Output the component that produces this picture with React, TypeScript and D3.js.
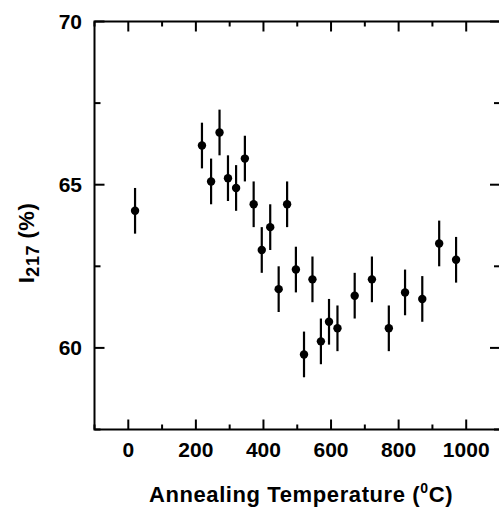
import React from "react";
import * as d3 from "d3";

const temperatures = [20, 218, 245, 270, 295, 319, 345, 371, 395, 420, 445, 470, 496, 520, 545, 570, 594, 619, 670, 721, 771, 819, 870, 920, 970];
const intensities = [64.2, 66.2, 65.1, 66.6, 65.2, 64.9, 65.8, 64.4, 63.0, 63.7, 61.8, 64.4, 62.4, 59.8, 62.1, 60.2, 60.8, 60.6, 61.6, 62.1, 60.6, 61.7, 61.5, 63.2, 62.7];
const errors = [0.7, 0.7, 0.7, 0.7, 0.7, 0.7, 0.7, 0.7, 0.7, 0.7, 0.7, 0.7, 0.7, 0.7, 0.7, 0.7, 0.7, 0.7, 0.7, 0.7, 0.7, 0.7, 0.7, 0.7, 0.7];
const xMajorTicks = [0, 200, 400, 600, 800, 1000];
const xMinorTicks = [-100, 100, 300, 500, 700, 900, 1100];
const yMajorTicks = [60, 65, 70];
const yMinorTicks = [57.5, 62.5, 67.5];

const W = 499;
const H = 510;
const left = 94.5;
const right = 500;
const top = 21.5;
const bottom = 429.5;

const FONT = "'Liberation Sans', Arial, Helvetica, sans-serif";

export default function App() {
  const x = d3.scaleLinear().domain([-100, 1100]).range([left, right]);
  const y = d3.scaleLinear().domain([57.5, 70]).range([bottom, top]);
  const data = temperatures.map((t, i) => ({ t, v: intensities[i], e: errors[i] }));

  return (
    <svg
      width={W}
      height={H}
      style={{ position: "absolute", left: 0, top: 0, background: "#fff" }}
      fontFamily={FONT}
    >
      <rect x={0} y={0} width={W} height={H} fill="#fff" />
      {/* frame */}
      <rect x={left} y={top} width={right - left} height={bottom - top} fill="none" stroke="#000" strokeWidth={2} />

      {/* x ticks bottom & top */}
      {xMajorTicks.map((t) => (
        <g key={"xm" + t}>
          <line x1={x(t)} x2={x(t)} y1={bottom} y2={bottom - 10} stroke="#000" strokeWidth={2} />
          <line x1={x(t)} x2={x(t)} y1={top} y2={top + 10} stroke="#000" strokeWidth={2} />
          <text x={x(t)} y={457} textAnchor="middle" fontSize={21} fontWeight="bold">
            {t}
          </text>
        </g>
      ))}
      {xMinorTicks.map((t) => (
        <g key={"xn" + t}>
          <line x1={x(t)} x2={x(t)} y1={bottom} y2={bottom - 5} stroke="#000" strokeWidth={2} />
          <line x1={x(t)} x2={x(t)} y1={top} y2={top + 5} stroke="#000" strokeWidth={2} />
        </g>
      ))}

      {/* y ticks left & right */}
      {yMajorTicks.map((v) => (
        <g key={"ym" + v}>
          <line x1={left} x2={left + 10} y1={y(v)} y2={y(v)} stroke="#000" strokeWidth={2} />
          <line x1={right} x2={right - 10} y1={y(v)} y2={y(v)} stroke="#000" strokeWidth={2} />
          <text x={82} y={y(v) + 7.5} textAnchor="end" fontSize={21} fontWeight="bold">
            {v}
          </text>
        </g>
      ))}
      {yMinorTicks.map((v) => (
        <g key={"yn" + v}>
          <line x1={left} x2={left + 6} y1={y(v)} y2={y(v)} stroke="#000" strokeWidth={2} />
          <line x1={right} x2={right - 6} y1={y(v)} y2={y(v)} stroke="#000" strokeWidth={2} />
        </g>
      ))}

      {/* data with error bars */}
      {data.map((d, i) => (
        <g key={"p" + i}>
          <line x1={x(d.t)} x2={x(d.t)} y1={y(d.v - d.e)} y2={y(d.v + d.e)} stroke="#000" strokeWidth={2.2} />
          <circle cx={x(d.t)} cy={y(d.v)} r={4.2} fill="#000" />
        </g>
      ))}

      {/* x title */}
      <text x={301} y={502} textAnchor="middle" fontSize={22} fontWeight="bold" letterSpacing={0.6}>
        Annealing Temperature (
        <tspan fontSize={14} dy={-9}>0</tspan>
        <tspan dy={9}>C)</tspan>
      </text>

      {/* y title */}
      <text
        transform={`translate(34, 243) rotate(-90)`}
        textAnchor="middle"
        fontSize={22}
        fontWeight="bold"
        letterSpacing={0.5}
      >
        I<tspan fontSize={18} dy={5}>217</tspan>
        <tspan dy={-5}> (%)</tspan>
      </text>
    </svg>
  );
}
